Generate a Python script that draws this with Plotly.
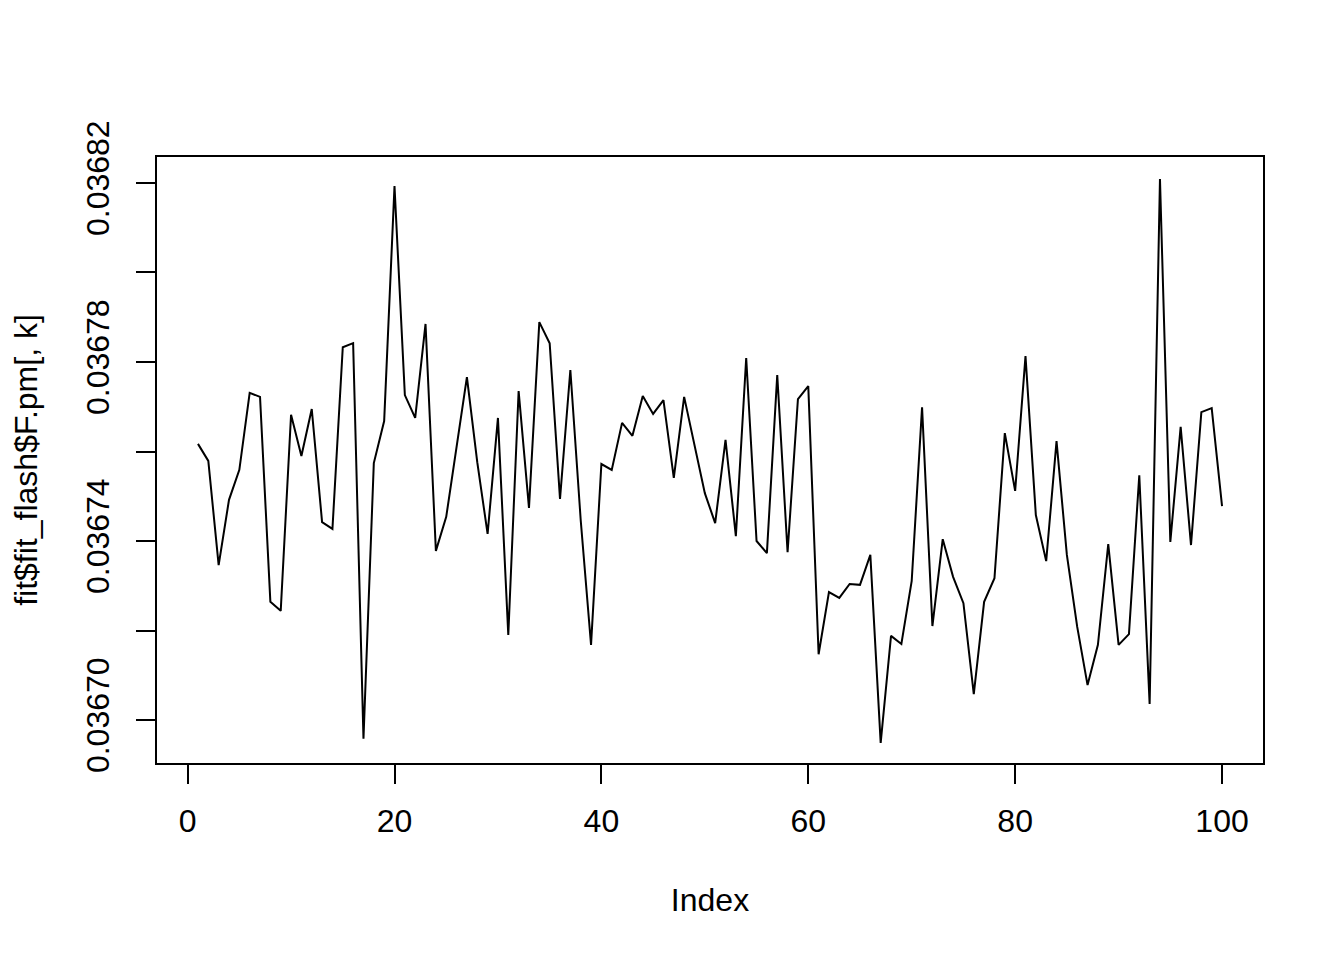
import plotly.graph_objects as go

index = list(range(1, 101))
values = [
    0.0367617, 0.0367579, 0.0367346, 0.0367492, 0.0367559, 0.0367731, 0.0367722, 0.0367264, 0.0367244, 0.0367682,
    0.0367590, 0.0367695, 0.0367442, 0.0367427, 0.0367833, 0.0367842, 0.0366958, 0.0367574, 0.0367668, 0.0368193,
    0.0367726, 0.0367675, 0.0367885, 0.0367378, 0.0367454, 0.0367614, 0.0367766, 0.0367576, 0.0367416, 0.0367675,
    0.0367190, 0.0367735, 0.0367474, 0.0367889, 0.0367842, 0.0367494, 0.0367782, 0.0367447, 0.0367168, 0.0367572,
    0.0367559, 0.0367664, 0.0367635, 0.0367724, 0.0367684, 0.0367715, 0.0367541, 0.0367722, 0.0367612, 0.0367507,
    0.0367440, 0.0367626, 0.0367411, 0.0367809, 0.0367400, 0.0367373, 0.0367771, 0.0367375, 0.0367717, 0.0367746,
    0.0367147, 0.0367286, 0.0367273, 0.0367304, 0.0367302, 0.0367369, 0.0366949, 0.0367188, 0.0367170, 0.0367311,
    0.0367699, 0.0367210, 0.0367404, 0.0367320, 0.0367261, 0.0367058, 0.0367264, 0.0367317, 0.0367641, 0.0367512,
    0.0367813, 0.0367458, 0.0367355, 0.0367623, 0.0367369, 0.0367208, 0.0367078, 0.0367168, 0.0367393, 0.0367168,
    0.0367192, 0.0367547, 0.0367036, 0.0368209, 0.0367398, 0.0367655, 0.0367391, 0.0367688, 0.0367697, 0.0367478,
]

x_ticks = [0, 20, 40, 60, 80, 100]
y_ticks = [0.03670, 0.03672, 0.03674, 0.03676, 0.03678, 0.03680, 0.03682]
y_ticktext = ["0.03670", "", "0.03674", "", "0.03678", "", "0.03682"]

x_title = "Index"
y_title = "fit$fit_flash$F.pm[, k]"

FONT = "Liberation Sans, Arial, Helvetica, sans-serif"

fig = go.Figure()
fig.add_trace(go.Scatter(
    x=index, y=values, mode="lines",
    line=dict(color="black", width=2),
    showlegend=False, hoverinfo="x+y",
))

fig.update_layout(
    width=1344, height=960,
    margin=dict(l=157, r=81, t=157, b=197),
    paper_bgcolor="white", plot_bgcolor="white",
    font=dict(family=FONT, size=32, color="black"),
)

fig.update_xaxes(
    range=[-2.96, 103.96],
    tickvals=x_ticks, ticktext=[str(t) for t in x_ticks],
    ticks="outside", ticklen=19, tickwidth=2, tickcolor="black",
    showline=True, linecolor="black", linewidth=2, mirror=True,
    showgrid=False, zeroline=False,
    tickfont=dict(size=32),
    ticklabelstandoff=10,
    title=dict(text=x_title, font=dict(size=32), standoff=50),
)

fig.update_yaxes(
    range=[0.0366904, 0.0368258],
    tickvals=y_ticks, ticktext=y_ticktext,
    ticks="outside", ticklen=19, tickwidth=2, tickcolor="black",
    showline=True, linecolor="black", linewidth=2, mirror=True,
    showgrid=False, zeroline=False,
    tickangle=-90,
    tickfont=dict(size=32),
    ticklabelstandoff=14,
    title=dict(text=y_title, font=dict(size=32), standoff=33),
)

fig.write_html(
    "out.html",
    config={"displayModeBar": False},
    post_script="document.body.style.margin='0';document.body.style.overflow='hidden';",
)
